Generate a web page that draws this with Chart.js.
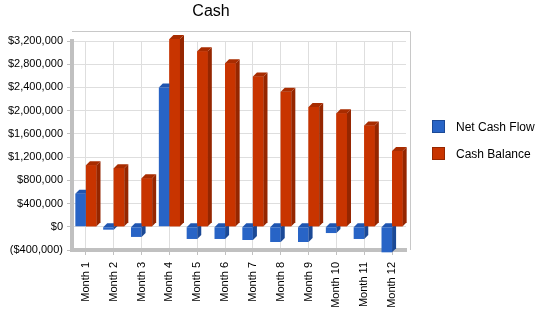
<!DOCTYPE html>
<html>
<head>
<meta charset="utf-8">
<script src="https://cdn.jsdelivr.net/npm/chart.js@4/dist/chart.umd.min.js"></script>
<style>
  html, body { margin: 0; padding: 0; background: #fff; }
  #wrap { width: 550px; height: 318px; }
</style>
</head>
<body>
<div id="wrap"><canvas id="cashChart" width="550" height="318"></canvas></div>
<script>
// Chart data
const months = ['Month 1', 'Month 2', 'Month 3', 'Month 4', 'Month 5', 'Month 6',
                'Month 7', 'Month 8', 'Month 9', 'Month 10', 'Month 11', 'Month 12'];
const netCashFlow = [570000, -50000, -175000, 2400000, -210000, -210000,
                     -228000, -262000, -262000, -108000, -210000, -440000];
const cashBalance = [1060000, 1010000, 835000, 3235000, 3025000, 2815000,
                     2587000, 2325000, 2063000, 1955000, 1745000, 1305000];
const yTicks = { min: -400000, max: 3200000, step: 400000 };

const FONT = "'Liberation Sans', Arial, sans-serif";

function money(v) {
    const s = '$' + Math.abs(v).toLocaleString('en-US');
    return v < 0 ? '(' + s + ')' : s;
}

// fake 3D faces (top + right side) on every bar, using the bar elements' own geometry
const bar3d = {
    id: 'bar3d',
    beforeDatasetsDraw(chart) {
        // back wall frame (top and right edges)
        const a = chart.chartArea;
        const ctx = chart.ctx;
        ctx.save();
        ctx.strokeStyle = '#c8c8c8';
        ctx.lineWidth = 1;
        ctx.beginPath();
        ctx.moveTo(a.left, a.top - 9.5);
        ctx.lineTo(a.right + 4.5, a.top - 9.5);
        ctx.lineTo(a.right + 4.5, a.bottom);
        ctx.stroke();
        ctx.restore();
    },
    afterDatasetsDraw(chart) {
        const ctx = chart.ctx;
        const d = 4;
        const faces = (i) => {
            const ds = chart.data.datasets[i];
            chart.getDatasetMeta(i).data.forEach(bar => {
                const p = bar.getProps(['x', 'y', 'base', 'width'], true);
                const l = p.x - p.width / 2, r = p.x + p.width / 2;
                const top = Math.min(p.y, p.base), bottom = Math.max(p.y, p.base);
                ctx.fillStyle = ds.sideColor;
                ctx.beginPath();
                ctx.moveTo(r, top); ctx.lineTo(r + d, top - d);
                ctx.lineTo(r + d, bottom - d); ctx.lineTo(r, bottom);
                ctx.closePath(); ctx.fill();
                ctx.fillStyle = ds.topColor;
                ctx.beginPath();
                ctx.moveTo(l, top); ctx.lineTo(l + d, top - d);
                ctx.lineTo(r + d, top - d); ctx.lineTo(r, top);
                ctx.closePath(); ctx.fill();
            });
        };
        ctx.save();
        faces(0);
        // red bars sit in front of the blue side faces
        chart.getDatasetMeta(1).data.forEach(bar => bar.draw(ctx, chart.chartArea));
        faces(1);
        ctx.restore();
    },
    afterDraw(chart) {
        const ctx = chart.ctx;
        ctx.save();
        // title
        ctx.fillStyle = '#000';
        ctx.font = '16px ' + FONT;
        ctx.textAlign = 'center';
        ctx.textBaseline = 'middle';
        ctx.fillText('Cash', 211, 12);
        // legend
        ctx.font = '12px ' + FONT;
        ctx.textAlign = 'left';
        chart.data.datasets.forEach((ds, i) => {
            const y = 120 + i * 27;
            ctx.fillStyle = ds.backgroundColor;
            ctx.fillRect(432, y, 13, 13);
            ctx.strokeStyle = ds.sideColor;
            ctx.lineWidth = 1;
            ctx.strokeRect(432.5, y + 0.5, 12, 12);
            ctx.fillStyle = '#000';
            ctx.fillText(ds.label, 456, y + 7.5);
        });
        ctx.restore();
    }
};

const ctx = document.getElementById('cashChart').getContext('2d');
new Chart(ctx, {
    type: 'bar',
    data: {
        labels: months,
        datasets: [{
            label: 'Net Cash Flow',
            data: netCashFlow,
            backgroundColor: '#2864c6',
            sideColor: '#1b4996',
            topColor: '#1f55b0',
            borderWidth: 0,
            clip: false
        }, {
            label: 'Cash Balance',
            data: cashBalance,
            backgroundColor: '#c83400',
            sideColor: '#952600',
            topColor: '#a82c00',
            borderWidth: 0,
            clip: false
        }]
    },
    options: {
        responsive: false,
        animation: false,
        categoryPercentage: 0.76,
        barPercentage: 1.0,
        layout: { padding: { top: 41, right: 144, left: 0, bottom: 0 } },
        plugins: {
            legend: { display: false },
            title: { display: false },
            tooltip: { enabled: false }
        },
        scales: {
            x: {
                afterFit(scale) { scale.height = 68; },
                grid: {
                    offset: false,
                    color: '#dedede',
                    tickColor: '#c0c0c0',
                    tickLength: 5
                },
                border: { color: '#c0c0c0', width: 4 },
                ticks: {
                    color: '#000',
                    font: { family: FONT, size: 11 },
                    minRotation: 90,
                    maxRotation: 90,
                    autoSkip: false,
                    padding: 7
                }
            },
            y: {
                min: yTicks.min,
                max: yTicks.max,
                afterFit(scale) { scale.width = 72; },
                grid: {
                    color: '#dedede',
                    tickColor: '#c0c0c0',
                    tickLength: 5
                },
                border: { color: '#c0c0c0', width: 4 },
                ticks: {
                    stepSize: yTicks.step,
                    color: '#000',
                    font: { family: FONT, size: 11 },
                    padding: 4,
                    callback: v => money(v)
                }
            }
        }
    },
    plugins: [bar3d]
});
</script>
</body>
</html>
